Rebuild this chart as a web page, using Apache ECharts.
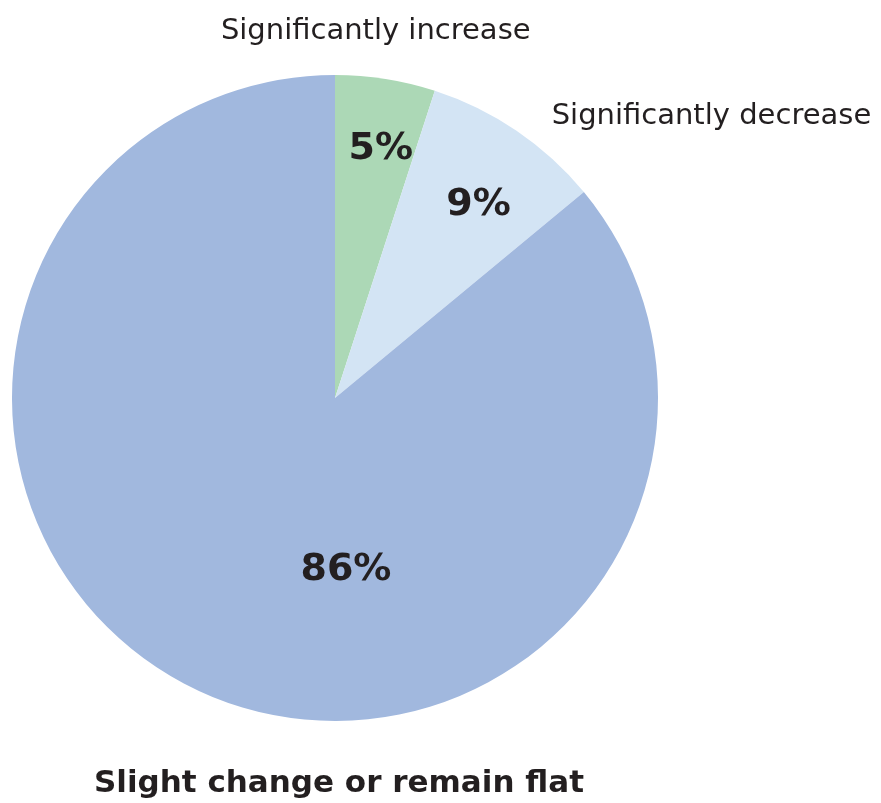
<!DOCTYPE html>
<html>
<head>
<meta charset="utf-8">
<script src="https://cdn.jsdelivr.net/npm/echarts@6/dist/echarts.min.js"></script>
<style>
  html, body { margin: 0; padding: 0; background: #fff; }
  #chart { width: 881px; height: 803px; }
</style>
</head>
<body>
<div id="chart"></div>
<script>
const categories = ['Significantly increase', 'Significantly decrease', 'Slight change or remain flat'];
const shares = [5, 9, 86];
const sliceColors = ['#acd8b6', '#d3e4f4', '#a1b8de'];
// label nudges from the default inside spot
const pctOffsets = [[20, -86], [51, -57], [81, 23]];
const nameOffsets = [[15, -204], [284, -145], [74, 237]];

const chart = echarts.init(document.getElementById('chart'));
const font = 'DejaVu Sans, Verdana, sans-serif';

const pctData = categories.map((c, i) => ({
  name: c,
  value: shares[i],
  itemStyle: { color: sliceColors[i] },
  label: { offset: pctOffsets[i] }
}));
const nameData = categories.map((c, i) => ({
  name: c,
  value: shares[i],
  label: {
    offset: nameOffsets[i],
    fontWeight: i === 2 ? 'bold' : 'normal',
    fontSize: i === 2 ? 31 : 29
  }
}));

chart.setOption({
  animation: false,
  series: [
    {
      type: 'pie',
      center: [335, 398],
      radius: [0, 323],
      startAngle: 90,
      clockwise: true,
      silent: true,
      itemStyle: { borderWidth: 0 },
      label: {
        show: true,
        position: 'inside',
        formatter: '{c}%',
        color: '#231f20',
        fontFamily: font,
        fontWeight: 'bold',
        fontSize: 38
      },
      labelLine: { show: false },
      data: pctData
    },
    {
      type: 'pie',
      center: [335, 398],
      radius: [0, 323],
      startAngle: 90,
      clockwise: true,
      silent: true,
      itemStyle: { color: 'rgba(0,0,0,0)', borderWidth: 0 },
      label: {
        show: true,
        position: 'inside',
        formatter: '{b}',
        color: '#231f20',
        fontFamily: font
      },
      labelLine: { show: false },
      data: nameData
    }
  ]
});
</script>
</body>
</html>
